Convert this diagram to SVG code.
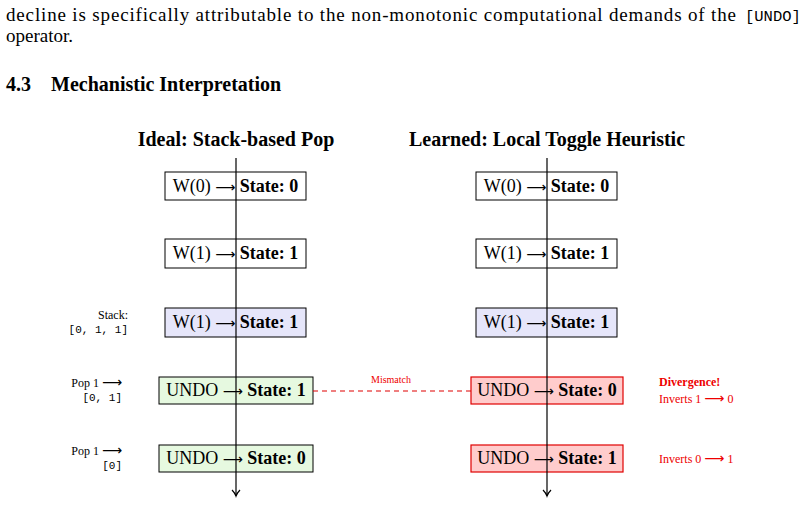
<svg xmlns="http://www.w3.org/2000/svg" width="800" height="505" viewBox="0 0 800 505">
<style>
text{font-family:"Liberation Serif","DejaVu Serif",serif;fill:#000}
.b{font-size:18px}
.bold{font-weight:bold}
.a{font-family:"DejaVu Sans",sans-serif;font-size:14px;font-weight:normal}
.box{stroke:#000;stroke-width:1}
.red{stroke:#e00000;stroke-width:1.2}
.m{font-family:"Liberation Mono","DejaVu Sans Mono",monospace;font-size:11px}
.mt{font-family:"Liberation Mono","DejaVu Sans Mono",monospace;font-size:15.5px}
.s{font-size:12px}
.r{fill:#ee0000}
</style>
<defs><marker id="ar" markerWidth="10" markerHeight="10" refX="7" refY="5" orient="auto" markerUnits="userSpaceOnUse"><path d="M1,1 Q4,4 7,5 Q4,6 1,9" fill="none" stroke="#000" stroke-width="1.2"/></marker></defs>
<text x="6" y="21" font-size="19" textLength="730" lengthAdjust="spacing">decline is specifically attributable to the non-monotonic computational demands of the</text>
<text x="745" y="21" class="mt">[UNDO]</text>
<text x="6" y="42" font-size="19">operator.</text>
<text x="6" y="91" font-size="20" class="bold">4.3<tspan x="51">Mechanistic Interpretation</tspan></text>
<text x="236" y="146" font-size="20" class="bold" text-anchor="middle">Ideal: Stack-based Pop</text>
<text x="547" y="146" font-size="20" class="bold" text-anchor="middle">Learned: Local Toggle Heuristic</text>
<g id="L0"><rect x="165" y="172" width="141" height="28" fill="#fff" class="box"/><text x="235.5" y="192" class="b" text-anchor="middle">W(0) <tspan class="a">⟶</tspan> <tspan class="bold">State: 0</tspan></text></g>
<g id="L1"><rect x="165" y="239" width="141" height="29" fill="#fff" class="box"/><text x="235.5" y="259" class="b" text-anchor="middle">W(1) <tspan class="a">⟶</tspan> <tspan class="bold">State: 1</tspan></text></g>
<g id="L2"><rect x="165" y="308" width="141" height="29" fill="#e6e6fa" class="box"/><text x="235.5" y="328" class="b" text-anchor="middle">W(1) <tspan class="a">⟶</tspan> <tspan class="bold">State: 1</tspan></text></g>
<g id="L3"><rect x="159" y="377" width="154" height="27" fill="#e6f9e0" class="box"/><text x="236" y="396" class="b" text-anchor="middle">UNDO <tspan class="a">⟶</tspan> <tspan class="bold">State: 1</tspan></text></g>
<g id="L4"><rect x="159" y="445" width="154" height="27" fill="#e6f9e0" class="box"/><text x="236" y="464" class="b" text-anchor="middle">UNDO <tspan class="a">⟶</tspan> <tspan class="bold">State: 0</tspan></text></g>
<g id="R0"><rect x="476" y="172" width="141" height="28" fill="#fff" class="box"/><text x="546.5" y="192" class="b" text-anchor="middle">W(0) <tspan class="a">⟶</tspan> <tspan class="bold">State: 0</tspan></text></g>
<g id="R1"><rect x="476" y="239" width="141" height="29" fill="#fff" class="box"/><text x="546.5" y="259" class="b" text-anchor="middle">W(1) <tspan class="a">⟶</tspan> <tspan class="bold">State: 1</tspan></text></g>
<g id="R2"><rect x="476" y="308" width="141" height="29" fill="#e6e6fa" class="box"/><text x="546.5" y="328" class="b" text-anchor="middle">W(1) <tspan class="a">⟶</tspan> <tspan class="bold">State: 1</tspan></text></g>
<g id="R3"><rect x="471" y="377" width="152" height="27" fill="#ffcccc" class="red"/><text x="547" y="396" class="b" text-anchor="middle">UNDO <tspan class="a">⟶</tspan> <tspan class="bold">State: 0</tspan></text></g>
<g id="R4"><rect x="471" y="445" width="152" height="27" fill="#ffcccc" class="red"/><text x="547" y="464" class="b" text-anchor="middle">UNDO <tspan class="a">⟶</tspan> <tspan class="bold">State: 1</tspan></text></g>
<g id="connectors">
<line x1="236" y1="158" x2="236" y2="496" stroke="#000" stroke-width="1.2" marker-end="url(#ar)"/>
<line x1="547" y1="158" x2="547" y2="496" stroke="#000" stroke-width="1.2" marker-end="url(#ar)"/>
<line x1="313" y1="391" x2="471" y2="391" stroke="#e00000" stroke-width="1.2" stroke-dasharray="5,4"/>
<text x="391" y="383" class="r" font-size="10" text-anchor="middle">Mismatch</text>
</g>
<g id="annotations">
<text x="128" y="319" class="s" text-anchor="end">Stack:</text>
<text x="128" y="333" class="m" text-anchor="end">[0, 1, 1]</text>
<text x="122" y="387" class="s" text-anchor="end">Pop 1 <tspan class="a" font-size="10">⟶</tspan></text>
<text x="122" y="401" class="m" text-anchor="end">[0, 1]</text>
<text x="122" y="455" class="s" text-anchor="end">Pop 1 <tspan class="a" font-size="10">⟶</tspan></text>
<text x="122" y="469" class="m" text-anchor="end">[0]</text>
<text x="659" y="386" class="s r bold">Divergence!</text>
<text x="659" y="403" class="s r">Inverts 1 <tspan class="a r" font-size="10">⟶</tspan> 0</text>
<text x="659" y="463" class="s r">Inverts 0 <tspan class="a r" font-size="10">⟶</tspan> 1</text>
</g>
</svg>
